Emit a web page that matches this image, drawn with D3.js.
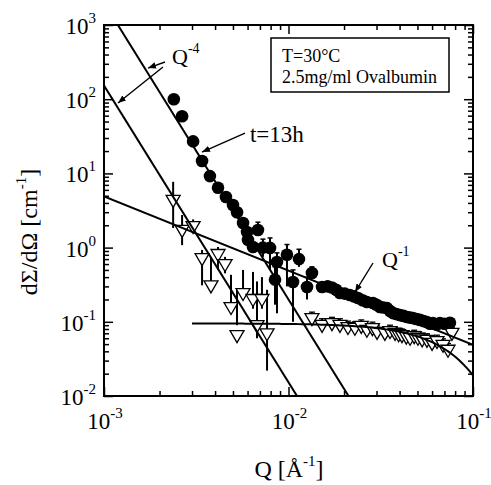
<!DOCTYPE html>
<html><head><meta charset="utf-8">
<script src="https://cdn.jsdelivr.net/npm/d3@7"></script>
<style>body{margin:0;background:#fff}svg{display:block}text{font-family:"Liberation Serif","Times New Roman",serif;fill:#000}</style>
</head><body><svg id="c" width="491" height="485"></svg>
<script>
// ---- data ----
const circleQ = [0.00239,0.00265,0.00304,0.00340,0.00375,0.00415,0.00458,0.00500,0.00526,0.00567,0.00596,0.00603,0.00642,0.00683,0.00727,0.00794,0.00845,0.00866,0.00981,0.01058,0.0114,0.0126,0.0134,0.0152,0.0163,0.0172,0.0181,0.0190,0.0202,0.0215,0.0226,0.0238,0.0252,0.0266,0.0287,0.0300,0.0313,0.0327,0.0342,0.0355,0.0369,0.0385,0.0402,0.0420,0.0439,0.0456,0.0473,0.0494,0.0516,0.0540,0.0563,0.0585,0.0607,0.0634,0.0662,0.0700,0.0750];
const circleI = [100,59,27,14.7,9.2,6.4,4.8,3.75,3.0,2.15,1.62,1.27,1.02,1.73,1.0,0.99,0.37,0.64,0.80,0.344,0.70,0.294,0.455,0.294,0.30,0.29,0.27,0.244,0.24,0.23,0.22,0.209,0.195,0.185,0.179,0.17,0.158,0.156,0.153,0.14,0.131,0.127,0.123,0.12,0.116,0.114,0.112,0.109,0.106,0.102,0.099,0.094,0.096,0.092,0.096,0.094,0.097];
const circleErrQ  = [0.00683,0.00727,0.00794,0.00845,0.00866,0.00981,0.01058,0.0114,0.0126,0.0134];
const circleErrLo = [1.5,0.75,0.5,0.17,0.13,0.3,0.1,0.55,0.2,0.38];
const circleErrHi = [2.2,1.3,1.35,0.55,0.85,1.1,0.5,0.95,0.4,0.55];

const triQ  = [0.00237,0.00265,0.00304,0.00340,0.00380,0.00415,0.00453,0.00488,0.00526,0.00567,0.00642,0.00675,0.00718,0.00765,0.0134,0.0152,0.0172,0.0190,0.0210,0.0229,0.0248,0.0266,0.0285,0.0302,0.0333,0.0355,0.0378,0.0395,0.0412,0.0435,0.0456,0.0480,0.0503,0.0530,0.0563,0.0600,0.0638,0.0688,0.0732,0.0769];
const triI  = [4.4,1.73,1.95,0.72,0.31,0.82,0.60,0.158,0.066,0.244,0.203,0.09,0.203,0.07,0.112,0.091,0.096,0.091,0.085,0.083,0.088,0.078,0.082,0.073,0.071,0.075,0.071,0.068,0.066,0.063,0.061,0.064,0.061,0.058,0.057,0.052,0.055,0.049,0.042,0.071];
const triLo = [1.84,1.08,1.95,0.31,0.31,0.5,0.45,0.158,0.09,0.2,0.15,0.06,0.15,0.022,0.112,0.091,0.096,0.091,0.085,0.083,0.088,0.078,0.082,0.073,0.071,0.075,0.071,0.068,0.066,0.063,0.061,0.064,0.061,0.058,0.057,0.052,0.055,0.049,0.042,0.071];
const triHi = [7.7,2.75,2.4,0.93,0.75,1.02,0.75,0.43,0.27,0.5,0.47,0.35,0.4,0.27,0.135,0.11,0.115,0.11,0.102,0.1,0.106,0.094,0.099,0.088,0.085,0.09,0.085,0.082,0.08,0.076,0.074,0.077,0.074,0.07,0.069,0.063,0.066,0.059,0.051,0.085];

// fit lines: power laws A*Q^p over Q range, and Guinier I0*exp(-Q^2 Rg^2/3)
const powerA   = [2.0e-9, 1.53e-10, 4.9e-3];
const powerExp = [-4, -4, -1];
const guinierI0 = 0.095, guinierRg = 22, guinierQmin = 0.003;

const xTickExp = [-3,-2,-1];
const yTickExp = [-2,-1,0,1,2,3];

// annotations (data coords)
const arrowFrom = [[2.14e-3,317],[2.088e-3,272],[5.81e-3,35.0],[2.871e-2,0.62]];
const arrowTo   = [[1.732e-3,263],[1.191e-3,88.9],[3.398e-3,19.4],[2.294e-2,0.252]];
const labelText = [["Q","-4"],["t=13h",""],["Q","-1"]];
const labelPos  = [[2.337e-3,298],[6.18e-3,26.5],[3.213e-2,0.548]];
const boxLines = ["T=30°C","2.5mg/ml Ovalbumin"];

// ---- drawing ----
const L=104,R=473,T=25,B=396;
const svg=d3.select("#c");
const x=d3.scaleLog().domain([1e-3,1e-1]).range([L,R]);
const y=d3.scaleLog().domain([1e-2,1e3]).range([B,T]);

svg.append("defs").append("clipPath").attr("id","clip").append("rect").attr("x",L).attr("y",T).attr("width",R-L).attr("height",B-T);
svg.select("defs").append("marker").attr("id","ah").attr("viewBox","0 0 10 10").attr("refX",10).attr("refY",5)
  .attr("markerWidth",8).attr("markerHeight",8).attr("markerUnits","userSpaceOnUse").attr("orient","auto")
  .append("path").attr("d","M0,1 L10,5 L0,9 Z").attr("fill","#000");

const minorsX=[],minorsY=[];
for(let e=-3;e<-1;e++)for(let k=2;k<10;k++)minorsX.push(k*Math.pow(10,e));
for(let e=-2;e<3;e++)for(let k=2;k<10;k++)minorsY.push(k*Math.pow(10,e));
const majX=xTickExp.map(e=>Math.pow(10,e)), majY=yTickExp.map(e=>Math.pow(10,e));

function ax(gen,tr,vals,size){
  const g=svg.append("g").attr("transform",tr).call(gen.tickValues(vals).tickSize(size).tickFormat("").tickSizeOuter(0));
  g.select(".domain").remove();
  g.selectAll("line").attr("stroke","#000").attr("stroke-width",1.5);
}
ax(d3.axisBottom(x),`translate(0,${B})`,minorsX,-5);
ax(d3.axisBottom(x),`translate(0,${B})`,majX,-9);
ax(d3.axisTop(x),`translate(0,${T})`,minorsX,-5);
ax(d3.axisTop(x),`translate(0,${T})`,majX,-9);
ax(d3.axisLeft(y),`translate(${L},0)`,minorsY,-5);
ax(d3.axisLeft(y),`translate(${L},0)`,majY,-9);
ax(d3.axisRight(y),`translate(${R},0)`,minorsY,-5);
ax(d3.axisRight(y),`translate(${R},0)`,majY,-9);

// tick labels
xTickExp.forEach(e=>{
  const t=svg.append("text").attr("x",x(Math.pow(10,e))+1).attr("y",429).attr("text-anchor","middle").attr("font-size",23);
  t.append("tspan").text("10");
  t.append("tspan").attr("dy",-11).attr("font-size",15).text(String(e));
});
yTickExp.forEach(e=>{
  const t=svg.append("text").attr("x",96).attr("y",y(Math.pow(10,e))+9).attr("text-anchor","end").attr("font-size",23);
  t.append("tspan").text("10");
  t.append("tspan").attr("dy",-11).attr("font-size",15).text(String(e));
});
// axis titles
{
  const t=svg.append("text").attr("x",289).attr("y",477).attr("text-anchor","middle").attr("font-size",24);
  t.append("tspan").text("Q [Å");
  t.append("tspan").attr("dy",-11).attr("font-size",15).text("-1");
  t.append("tspan").attr("dy",11).text("]");
  const u=svg.append("text").attr("transform","translate(37,232) rotate(-90)").attr("text-anchor","middle").attr("font-size",24);
  u.append("tspan").text("dΣ/dΩ [cm");
  u.append("tspan").attr("dy",-11).attr("font-size",15).text("-1");
  u.append("tspan").attr("dy",11).text("]");
}

const plot=svg.append("g").attr("clip-path","url(#clip)");
// error bars
const tri=triQ.map((q,i)=>({q,v:triI[i],lo:triLo[i],hi:triHi[i]}));
plot.selectAll(".te").data(tri).enter().append("line").attr("x1",d=>x(d.q)).attr("x2",d=>x(d.q))
  .attr("y1",d=>y(d.lo)).attr("y2",d=>y(d.hi)).attr("stroke","#000").attr("stroke-width",2);
plot.selectAll(".tc").data(tri.filter(d=>d.q>0.01)).enter().append("line").attr("x1",d=>x(d.q)-3).attr("x2",d=>x(d.q)+3)
  .attr("y1",d=>y(d.hi)).attr("y2",d=>y(d.hi)).attr("stroke","#000").attr("stroke-width",1.3);
const cerr=circleErrQ.map((q,i)=>({q,lo:circleErrLo[i],hi:circleErrHi[i]}));
plot.selectAll(".ce").data(cerr).enter().append("line").attr("x1",d=>x(d.q)).attr("x2",d=>x(d.q))
  .attr("y1",d=>y(d.lo)).attr("y2",d=>y(d.hi)).attr("stroke","#000").attr("stroke-width",2);
plot.selectAll(".cc").data(cerr).enter().append("line").attr("x1",d=>x(d.q)-2.5).attr("x2",d=>x(d.q)+2.5)
  .attr("y1",d=>y(d.hi)).attr("y2",d=>y(d.hi)).attr("stroke","#000").attr("stroke-width",1.5);

// triangles
plot.selectAll(".tri").data(tri).enter().append("path")
  .attr("d","M-7,-4.5 L7,-4.5 L0,7.5 Z").attr("transform",d=>`translate(${x(d.q)},${y(d.v)})`)
  .attr("fill","#fff").attr("stroke","#000").attr("stroke-width",1.3);
// circles
plot.selectAll(".cir").data(circleQ.map((q,i)=>({q,v:circleI[i]}))).enter().append("circle")
  .attr("cx",d=>x(d.q)).attr("cy",d=>y(d.v)).attr("r",6.3).attr("fill","#000");

// fit lines
const line=d3.line().x(d=>x(d[0])).y(d=>y(d[1]));
powerA.forEach((A,i)=>{
  const pts=[1e-3,1e-1].map(q=>[q,A*Math.pow(q,powerExp[i])]);
  plot.append("path").attr("d",line(pts)).attr("fill","none").attr("stroke","#000").attr("stroke-width",2);
});
const gq=d3.range(0,101).map(i=>guinierQmin*Math.pow(1e-1/guinierQmin,i/100));
plot.append("path").attr("d",line(gq.map(q=>[q,guinierI0*Math.exp(-q*q*guinierRg*guinierRg/3)])))
  .attr("fill","none").attr("stroke","#000").attr("stroke-width",2);

// frame
svg.append("rect").attr("x",L).attr("y",T).attr("width",R-L).attr("height",B-T).attr("fill","none").attr("stroke","#000").attr("stroke-width",2);

// arrows
arrowFrom.forEach((f,i)=>{
  svg.append("line").attr("x1",x(f[0])).attr("y1",y(f[1])).attr("x2",x(arrowTo[i][0])).attr("y2",y(arrowTo[i][1]))
    .attr("stroke","#000").attr("stroke-width",1.4).attr("marker-end","url(#ah)");
});
labelText.forEach((lt,i)=>{
  const t=svg.append("text").attr("x",x(labelPos[i][0])).attr("y",y(labelPos[i][1])).attr("font-size",i===1?23:22);
  t.append("tspan").text(lt[0]);
  if(lt[1])t.append("tspan").attr("dy",-11).attr("font-size",14).text(lt[1]);
});
// box
svg.append("rect").attr("x",271).attr("y",38).attr("width",178).attr("height",54).attr("fill","#fff").attr("stroke","#000").attr("stroke-width",1.5);
boxLines.forEach((s,i)=>svg.append("text").attr("x",282).attr("y",62+i*20.5).attr("font-size",18).text(s));
</script></body></html>
